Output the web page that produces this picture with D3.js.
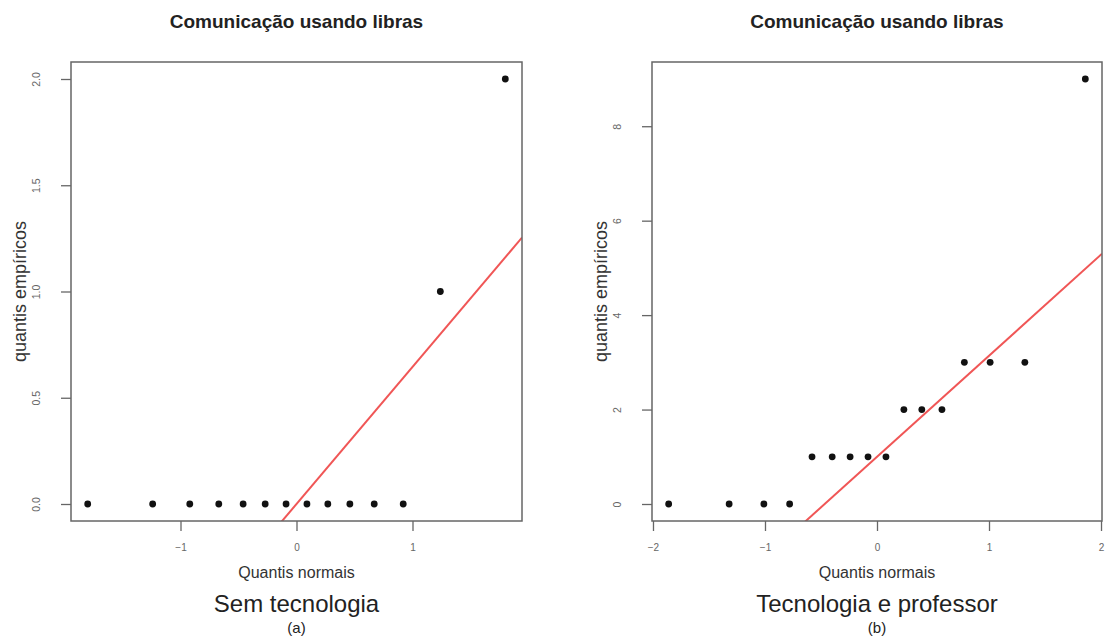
<!DOCTYPE html>
<html>
<head>
<meta charset="utf-8">
<script src="https://cdn.jsdelivr.net/npm/d3@7"></script>
<style>
  body { margin: 0; background: #fff; }
  svg { display: block; font-family: "Liberation Sans", Arial, sans-serif; }
</style>
</head>
<body>
<svg id="chart" width="1105" height="639"></svg>
<script>
// Data
const titleText = "Comunicação usando libras";
const xLabel = "Quantis normais";
const yLabel = "quantis empíricos";

const semTecTheo = [-1.80, -1.24, -0.92, -0.67, -0.46, -0.27, -0.09, 0.09, 0.27, 0.46, 0.67, 0.92, 1.24, 1.80];
const semTecEmp  = [0, 0, 0, 0, 0, 0, 0, 0, 0, 0, 0, 0, 1, 2];
const semTecLine = [0, 0.645];          // intercept, slope
const semTecXTicks = [-1, 0, 1];
const semTecYTicks = [0, 0.5, 1, 1.5, 2];

const tecProfTheo = [-1.86, -1.32, -1.01, -0.78, -0.58, -0.40, -0.24, -0.08, 0.08, 0.24, 0.40, 0.58, 0.78, 1.01, 1.32, 1.86];
const tecProfEmp  = [0, 0, 0, 0, 1, 1, 1, 1, 1, 2, 2, 2, 3, 3, 3, 9];
const tecProfLine = [1.0, 2.14];
const tecProfXTicks = [-2, -1, 0, 1, 2];
const tecProfYTicks = [0, 2, 4, 6, 8];

const svg = d3.select("#chart");

// R-style 4% padding of the data range
function padded(vals) {
    const [a, b] = d3.extent(vals);
    const p = (b - a) * 0.04;
    return [a - p, b + p];
}

function drawPanel(opt) {
    const x = d3.scaleLinear().domain(padded(opt.theo)).range([opt.left, opt.right]);
    const y = d3.scaleLinear().domain(padded(opt.emp)).range([opt.bottom, opt.top]);
    const g = svg.append("g");
    const cx = (opt.left + opt.right) / 2;

    // title
    g.append("text")
        .attr("x", cx).attr("y", 28)
        .attr("text-anchor", "middle")
        .attr("font-weight", "bold")
        .attr("font-size", 19)
        .attr("fill", "#222")
        .text(titleText);

    // clip for the reference line
    const clipId = "clip" + opt.id;
    g.append("clipPath").attr("id", clipId)
        .append("rect")
        .attr("x", opt.left).attr("y", opt.top)
        .attr("width", opt.right - opt.left).attr("height", opt.bottom - opt.top);

    const xd = x.domain();
    g.append("line")
        .attr("clip-path", `url(#${clipId})`)
        .attr("x1", x(xd[0])).attr("y1", y(opt.line[0] + opt.line[1] * xd[0]))
        .attr("x2", x(xd[1])).attr("y2", y(opt.line[0] + opt.line[1] * xd[1]))
        .attr("stroke", "#f05656")
        .attr("stroke-width", 2);

    // points
    g.append("g").selectAll("circle")
        .data(opt.theo)
        .join("circle")
        .attr("cx", d => x(d))
        .attr("cy", (d, i) => y(opt.emp[i]))
        .attr("r", 3.4)
        .attr("fill", "#111");

    // box
    g.append("rect")
        .attr("x", opt.left).attr("y", opt.top)
        .attr("width", opt.right - opt.left).attr("height", opt.bottom - opt.top)
        .attr("fill", "none")
        .attr("stroke", "#666")
        .attr("stroke-width", 1.5);

    // x axis
    const xAxis = g.append("g")
        .attr("transform", `translate(0,${opt.bottom})`)
        .call(d3.axisBottom(x).tickValues(opt.xTicks).tickSize(10).tickPadding(13)
            .tickFormat(d => d < 0 ? "\u2212" + Math.abs(d) : d));
    xAxis.select(".domain").remove();
    xAxis.selectAll("line").attr("stroke", "#666").attr("stroke-width", 1.3);
    xAxis.selectAll("text").attr("font-size", 10).attr("fill", "#666")
        .attr("font-family", "Liberation Sans, Arial, sans-serif");

    // y axis
    const yAxis = g.append("g")
        .attr("transform", `translate(${opt.left},0)`)
        .call(d3.axisLeft(y).tickValues(opt.yTicks).tickSize(10).tickFormat(opt.yFmt));
    yAxis.select(".domain").remove();
    yAxis.selectAll("line").attr("stroke", "#666").attr("stroke-width", 1.3);
    yAxis.selectAll("text")
        .attr("x", null).attr("dy", null)
        .attr("text-anchor", "middle")
        .attr("transform", "translate(-31,0) rotate(-90)")
        .attr("font-size", 10.5).attr("fill", "#666")
        .attr("font-family", "Liberation Sans, Arial, sans-serif");

    // axis labels
    g.append("text")
        .attr("x", cx).attr("y", 578)
        .attr("text-anchor", "middle")
        .attr("font-size", 16)
        .attr("fill", "#333")
        .text(xLabel);
    g.append("text")
        .attr("transform", `translate(${opt.left - 45},${(opt.top + opt.bottom) / 2}) rotate(-90)`)
        .attr("text-anchor", "middle")
        .attr("font-size", 18)
        .attr("fill", "#333")
        .text(yLabel);

    // captions
    g.append("text")
        .attr("x", cx).attr("y", 612)
        .attr("text-anchor", "middle")
        .attr("font-size", 24)
        .attr("fill", "#222")
        .text(opt.caption);
    g.append("text")
        .attr("x", cx).attr("y", 633)
        .attr("text-anchor", "middle")
        .attr("font-size", 15)
        .attr("fill", "#222")
        .text(opt.sub);
}

drawPanel({
    id: "a", left: 71, right: 522, top: 62, bottom: 521,
    theo: semTecTheo, emp: semTecEmp, line: semTecLine,
    xTicks: semTecXTicks, yTicks: semTecYTicks, yFmt: d3.format(".1f"),
    caption: "Sem tecnologia", sub: "(a)"
});
drawPanel({
    id: "b", left: 652, right: 1102, top: 62, bottom: 521,
    theo: tecProfTheo, emp: tecProfEmp, line: tecProfLine,
    xTicks: tecProfXTicks, yTicks: tecProfYTicks, yFmt: d3.format("d"),
    caption: "Tecnologia e professor", sub: "(b)"
});
</script>
</body>
</html>
